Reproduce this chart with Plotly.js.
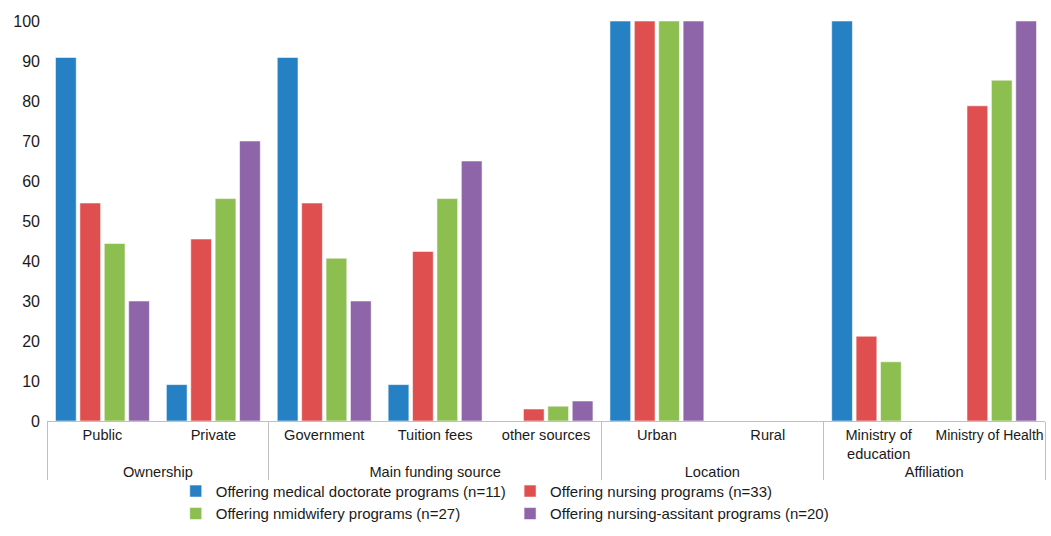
<!DOCTYPE html>
<html>
<head>
<meta charset="utf-8">
<script src="https://cdn.plot.ly/plotly-3.0.1.min.js"></script>
<style>html,body{margin:0;padding:0;background:#fff;}#chart{width:1051px;height:536px;}</style>
</head>
<body>
<div id="chart"></div>
<script>
const groups = ["Ownership","Ownership","Main funding source","Main funding source","Main funding source","Location","Location","Affiliation","Affiliation"];
const categories = ["Public","Private","Government","Tuition fees","other sources","Urban","Rural","Ministry of<br>education","<span style='font-size:14px'>Ministry of Health</span>"];
const seriesNames = [
  "Offering medical doctorate programs (n=11)",
  "Offering nursing programs (n=33)",
  "Offering nmidwifery programs (n=27)",
  "Offering nursing-assitant programs (n=20)"
];
const medical   = [90.9, 9.1, 90.9, 9.1, 0, 100, 0, 100, 0];
const nursing   = [54.5, 45.5, 54.5, 42.4, 3.0, 100, 0, 21.2, 78.8];
const midwifery = [44.4, 55.6, 40.7, 55.6, 3.7, 100, 0, 14.8, 85.2];
const assistant = [30, 70, 30, 65, 5, 100, 0, 0, 100];
const yTicks = [0,10,20,30,40,50,60,70,80,90,100];

const colors = ["#2581C4","#E04F4F","#8CBE50","#8D65A8"];
const values = [medical, nursing, midwifery, assistant];
const legendIds = ["legend","legend2","legend","legend2"];

const traces = values.map((v,i)=>({
  type:"bar",
  x:[groups, categories],
  y:v,
  name:seriesNames[i],
  legend:legendIds[i],
  marker:{color:colors[i], line:{color:"rgba(255,255,255,0.55)", width:1}},
  hoverinfo:"y"
}));

const font = {family:"Liberation Sans, Arial, Helvetica, sans-serif", size:15, color:"#1a1a1a"};
const layout = {
  width:1051, height:536,
  margin:{l:47, r:6, t:21, b:115},
  paper_bgcolor:"#fff", plot_bgcolor:"#fff",
  font:font,
  barmode:"group",
  bargap:0.12,
  bargroupgap:0.15,
  showlegend:true,
  xaxis:{
    type:"multicategory",
    automargin:false,
    tickangle:0,
    showline:true, linecolor:"#BFBFBF", linewidth:1,
    showdividers:true, dividercolor:"#BFBFBF", dividerwidth:1,
    ticks:"", tickfont:{size:14.6, color:"#1a1a1a"},
    showgrid:false, zeroline:false
  },
  yaxis:{
    automargin:false,
    range:[0,100], tickvals:yTicks, ticktext:yTicks.map(String),
    showgrid:false, zeroline:false, showline:false,
    ticks:"", tickfont:{size:16, color:"#1a1a1a"}, ticklabelstandoff:6
  },
  legend:{orientation:"v", x:0.129, xanchor:"left", y:-0.272, yanchor:"bottom",
          font:{size:15, color:"#1a1a1a"}, bgcolor:"rgba(0,0,0,0)", itemclick:false, tracegroupgap:0},
  legend2:{orientation:"v", x:0.464, xanchor:"left", y:-0.272, yanchor:"bottom",
          font:{size:15, color:"#1a1a1a"}, bgcolor:"rgba(0,0,0,0)", itemclick:false, tracegroupgap:0}
};
Plotly.newPlot("chart", traces, layout, {displayModeBar:false, staticPlot:true});
</script>
</body>
</html>
